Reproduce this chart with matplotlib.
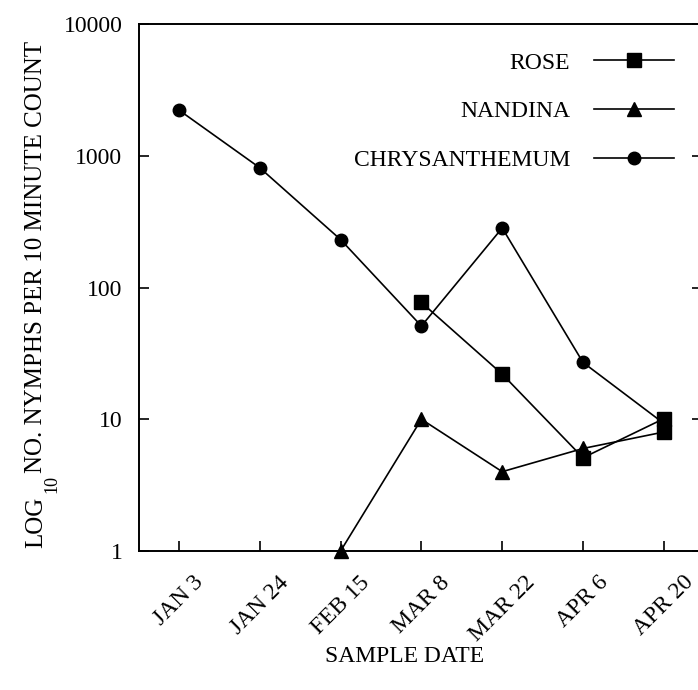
import numpy as np
import matplotlib
matplotlib.use("Agg")
import matplotlib.pyplot as plt

plt.rcParams['font.family'] = ['Liberation Serif', 'DejaVu Serif']

dates = ["JAN 3", "JAN 24", "FEB 15", "MAR 8", "MAR 22", "APR 6", "APR 20"]
rose = [np.nan, np.nan, np.nan, 77, 22, 5.1, 10.1]
nandina = [np.nan, np.nan, 1.0, 10, 4.0, 6.0, 8.0]
chrysanthemum = [2220, 810, 231, 51, 283, 27, 9.3]
ytick_vals = [1, 10, 100, 1000, 10000]
ytick_labels = ['1', '10', '100', '1000', '10000']

W, H = 698, 690
fig = plt.figure(figsize=(W / 100, H / 100), dpi=100)
left, right, top, bottom = 139, 702, 24, 551
ax = fig.add_axes([left / W, 1 - bottom / H, (right - left) / W, (bottom - top) / H])

x = np.arange(len(dates))
lw = 1.2
ax.plot(x, chrysanthemum, color='black', lw=lw, marker='o', ms=9, zorder=3,
        label='CHRYSANTHEMUM', clip_on=False)
ax.plot(x, nandina, color='black', lw=lw, marker='^', ms=10, zorder=4,
        label='NANDINA', clip_on=False, markevery=[2, 3, 4, 5])
ax.plot(x[-1:], nandina[-1:], color='black', marker='s', ms=9.5, lw=0, zorder=5, clip_on=False)
ax.plot(x, rose, color='black', lw=lw, marker='s', ms=9.5, zorder=5,
        label='ROSE', clip_on=False)

ax.set_yscale('log')
ax.set_ylim(1, 10000)
ax.set_xlim(-40 / 80.8, (right - 179) / 80.8)
ax.set_yticks(ytick_vals)
ax.set_yticklabels(ytick_labels)
ax.yaxis.set_minor_locator(matplotlib.ticker.NullLocator())
ax.set_xticks(x)
ax.set_xticklabels(dates, rotation=45, ha='center')

for s in ax.spines.values():
    s.set_linewidth(1.4)
ax.tick_params(axis='y', which='major', direction='in', length=7, width=1.2,
               labelsize=17, pad=12, right=True)
ax.tick_params(axis='x', which='major', direction='in', length=7, width=1.2,
               labelsize=17, pad=15)

fig.text(405 / W, 1 - 656 / H, 'SAMPLE DATE', ha='center', va='center', fontsize=17)

# y-axis label built from pieces (deep subscript as in the original)
r = fig.canvas.get_renderer()
t1 = fig.text(42 / W, 1 - 548 / H, 'LOG', rotation=90, rotation_mode='anchor',
              ha='left', va='baseline', fontsize=18)
bb = t1.get_window_extent(r)
t2 = fig.text(56 / W, (bb.y1 + 4) / H, '10', rotation=90, rotation_mode='anchor',
              ha='left', va='baseline', fontsize=13)
bb2 = t2.get_window_extent(r)
t3 = fig.text(42 / W, (bb2.y1 + 2) / H, 'NO. NYMPHS PER 10 MINUTE COUNT', rotation=90,
              rotation_mode='anchor', ha='left', va='baseline', fontsize=18)

handles, labels = ax.get_legend_handles_labels()
order = [2, 1, 0]
leg = ax.legend([handles[i] for i in order], [labels[i] for i in order],
                loc='upper right', bbox_to_anchor=(674 / W, 1 - 52 / H),
                bbox_transform=fig.transFigure, frameon=False, markerfirst=False,
                fontsize=17, handlelength=3.4, handletextpad=1.0, labelspacing=1.15,
                borderpad=0, borderaxespad=0, numpoints=1)

fig.savefig('out.png', dpi=100)
